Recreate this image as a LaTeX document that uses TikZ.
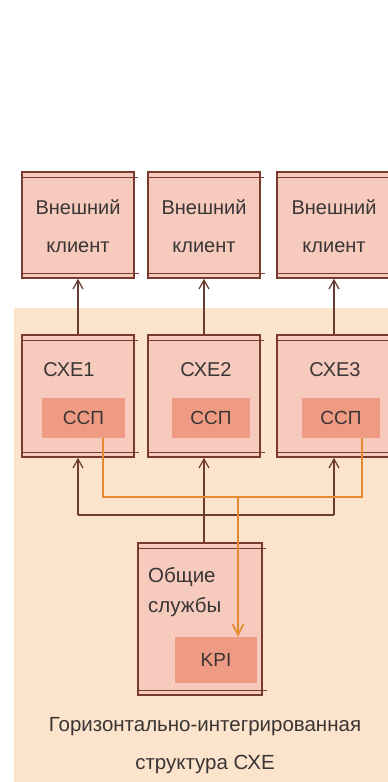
\documentclass[tikz,border=0pt]{standalone}
\usepackage{fontspec}
\setmainfont{Liberation Sans}
\usetikzlibrary{arrows.meta}
\definecolor{bord}{HTML}{7A3B2E}
\definecolor{boxfill}{HTML}{F6CABC}
\definecolor{innerfill}{HTML}{EF9A82}
\definecolor{bgpeach}{HTML}{FCE3CC}
\definecolor{orng}{HTML}{E58A30}
\definecolor{txt}{HTML}{3A3535}
\definecolor{darkline}{HTML}{6B3A30}
\tikzset{
  box/.style={draw=bord, line width=1.6pt, fill=boxfill, inner sep=0pt},
  innerbox/.style={fill=innerfill, draw=none, inner sep=0pt, text=txt, font=\fontsize{19}{21}\selectfont},
  lbl/.style={text=txt, font=\fontsize{20}{38}\selectfont, align=center, inner sep=0pt},
  arr/.style={draw=darkline, line width=1.4pt, -{Straight Barb[length=9pt,width=10pt,line width=1.2pt]}},
  orarr/.style={draw=orng, line width=2pt, -{Straight Barb[length=11pt,width=11pt,line width=1.6pt]}},
  deco/.style={draw=bord, line width=1.2pt},
}
\begin{document}
\begin{tikzpicture}[x=1pt,y=-1pt]
\useasboundingbox (0,0) rectangle (388,782);
\clip (0,0) rectangle (388,782);
\fill[white] (0,0) rectangle (388,782);
\fill[bgpeach] (14,308) rectangle (395,790);
% top boxes
\node[box, minimum width=112, minimum height=106] (k1) at (78,225) {};
\node[box, minimum width=112, minimum height=106] (k2) at (204,225) {};
\node[box, minimum width=114, minimum height=106] (k3) at (334,225) {};
\foreach \b in {k1,k2,k3}{
  \draw[deco] ([yshift=-6pt]\b.north west) -- ([yshift=-6pt,xshift=3pt]\b.north east);
  \draw[deco] ([yshift=5pt]\b.south west) -- ([yshift=5pt,xshift=4pt]\b.south east);
}
\node[lbl] (t1) at (78,226) {Внешний\\клиент};
\node[lbl] (t2) at (204,226) {Внешний\\клиент};
\node[lbl] (t3) at (334,226) {Внешний\\клиент};
% CXE boxes
\node[box, minimum width=112, minimum height=122] (c1) at (78,396) {};
\node[box, minimum width=112, minimum height=122] (c2) at (204,396) {};
\node[box, minimum width=114, minimum height=122] (c3) at (334,396) {};
\foreach \b in {c1,c2,c3}{
  \draw[deco] ([yshift=-6pt]\b.north west) -- ([yshift=-6pt,xshift=3pt]\b.north east);
  \draw[deco] ([yshift=5pt]\b.south west) -- ([yshift=5pt,xshift=4pt]\b.south east);
}
\node[lbl] (l1) at (69,370) {СХЕ1};
\node[lbl] (l2) at (206,370) {СХЕ2};
\node[lbl] (l3) at (335,370) {СХЕ3};
\node[innerbox, minimum width=83, minimum height=40] (s1) at (83.5,418) {ССП};
\node[innerbox, minimum width=78, minimum height=40] (s2) at (211,418) {ССП};
\node[innerbox, minimum width=78, minimum height=40] (s3) at (341,418) {ССП};
% common services
\node[box, minimum width=124, minimum height=152] (g) at (200,619) {};
\draw[deco] ([yshift=-6pt]g.north west) -- ([yshift=-6pt,xshift=3pt]g.north east);
\draw[deco] ([yshift=5pt]g.south west) -- ([yshift=5pt,xshift=4pt]g.south east);
\node[lbl, font=\fontsize{20.5}{30}\selectfont, align=left, anchor=west] (gt) at (148,592) {Общие\\службы};
\node[innerbox, minimum width=82, minimum height=46] (kpi) at (216,660) {KPI};
% arrows up to clients
\draw[arr] (c1.north) -- (k1.south);
\draw[arr] (c2.north) -- (k2.south);
\draw[arr] (c3.north) -- (k3.south);
% bus from common services
\coordinate (bl) at (78,515);
\coordinate (br) at (334,515);
\coordinate (bm) at (204,515);
\draw[darkline, line width=1.4pt] (bl) -- (br);
\draw[arr] (bl) -- (c1.south);
\draw[arr] (br) -- (c3.south);
\draw[arr] (g.north -| bm) -- (c2.south);
% orange KPI flow
\coordinate (o1) at (103,497);
\coordinate (o3) at (362,497);
\coordinate (om) at (238,497);
\draw[orng, line width=2pt] (s1.south -| o1) -- (o1) -- (o3) -- (s3.south -| o3);
\draw[orarr] (om) -- (kpi.north -| om);
% caption
\node[lbl, font=\fontsize{20.5}{38}\selectfont] (cap) at (205,746) {Горизонтально-интегрированная\\структура СХЕ};
\end{tikzpicture}
\end{document}
